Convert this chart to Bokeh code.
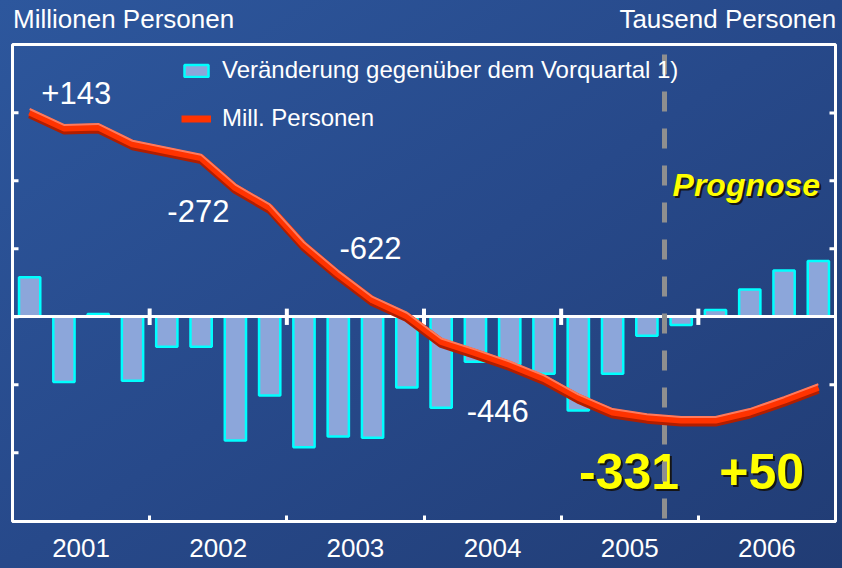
from bokeh.plotting import figure
from bokeh.models import (Range1d, LinearAxis, FixedTicker, Legend, LegendItem)
from bokeh.core.properties import value
from bokeh.embed import file_html
from bokeh.resources import INLINE

# ---------------- data ----------------
years = ["2001", "2002", "2003", "2004", "2005", "2006"]
quarters = [f"{y}Q{q}" for y in years for q in range(1, 5)]
# change vs previous quarter, thousand persons (right scale)
change_k = [29, -48, 2, -47,
            -22, -22, -91, -58,
            -96, -88, -89, -52,
            -67, -33, -35, -42,
            -69, -42, -14, -6,
            5, 20, 34, 41]
# persons, millions (left scale)
persons_m = [28.005, 27.911, 27.917, 27.818,
             27.777, 27.736, 27.560, 27.443,
             27.221, 27.051, 26.899, 26.806,
             26.654, 26.589, 26.519, 26.437,
             26.326, 26.239, 26.209, 26.192,
             26.192, 26.239, 26.309, 26.385]
# annual change labels (thousand persons)
annual_labels = ["+143", "-272", "-622", "-446", "-331", "+50"]
forecast_start = "2005Q4"
left_ticks = [26.0, 26.4, 26.8, 27.2, 27.6, 28.0]
right_ticks = [-50, 50, 100, 150]
unit_labels = ["Millionen Personen", "Tausend Personen"]

# ---------------- layout constants ----------------
FONT = "Liberation Sans"
W, H = 842, 568
ML, MR, MT, MB = 12, 7, 41, 47
FRAME_W = W - ML - MR
FRAME_H = H - MT - MB
idx = list(range(len(quarters)))
X0, X1 = -0.5, len(quarters) - 0.5
X_PER_PX = (X1 - X0) / FRAME_W
boundaries = [4 * k - 0.5 for k in range(1, len(years))]
year_centers = [4 * k + 1.5 for k in range(len(years))]
forecast_x = quarters.index(forecast_start) - 0.5
unit_label_x = [2.74, 20.36]

Y_K = (-150.6, 200.3)
Y_M = (25.595, 28.402)
M_PER_PX = (Y_M[1] - Y_M[0]) / FRAME_H
TICK = 6 * X_PER_PX

p = figure(width=W, height=H, output_backend="svg", toolbar_location=None,
           x_range=Range1d(X0, X1), y_range=Range1d(*Y_K),
           x_axis_location=None, y_axis_location=None,
           min_border_left=ML, min_border_right=MR, min_border_top=MT, min_border_bottom=MB)
p.extra_y_ranges = {
    "mill": Range1d(*Y_M),
    "mill_sh": Range1d(Y_M[0] + 3 * M_PER_PX, Y_M[1] + 3 * M_PER_PX),
    "mill_hi": Range1d(Y_M[0] - 3 * M_PER_PX, Y_M[1] - 3 * M_PER_PX),
}
p.grid.visible = False
p.background_fill_alpha = 0
p.border_fill_alpha = 0
p.outline_line_color = "white"
p.outline_line_width = 3

# bottom axis: year labels, inward ticks at year boundaries
xb = LinearAxis(ticker=FixedTicker(ticks=year_centers, minor_ticks=boundaries),
                major_label_overrides={c: y for c, y in zip(year_centers, years)},
                major_tick_line_color=None, major_tick_in=0, major_tick_out=0,
                minor_tick_in=6, minor_tick_out=0,
                minor_tick_line_color="white", minor_tick_line_width=3,
                axis_line_color="white", axis_line_width=3,
                major_label_text_color="white", major_label_text_font=FONT,
                major_label_text_font_size="26px", major_label_standoff=17)
p.add_layout(xb, "below")

# top axis: unit captions
xt = LinearAxis(ticker=FixedTicker(ticks=unit_label_x, minor_ticks=[]),
                major_label_overrides={c: t for c, t in zip(unit_label_x, unit_labels)},
                major_tick_line_color=None, major_tick_in=0, major_tick_out=0,
                minor_tick_line_color=None, axis_line_color=None,
                major_label_text_color="white", major_label_text_font=FONT,
                major_label_text_font_size="26px", major_label_standoff=11)
p.add_layout(xt, "above")

# inward ticks on left (millions) and right (thousands) frame sides
p.segment(x0=[X0] * len(left_ticks), y0=left_ticks, x1=[X0 + TICK] * len(left_ticks),
          y1=left_ticks, y_range_name="mill", line_color="white", line_width=3)
p.segment(x0=[X1 - TICK] * len(right_ticks), y0=right_ticks, x1=[X1] * len(right_ticks),
          y1=right_ticks, line_color="white", line_width=3)

# bars
bars = p.vbar(x=idx, top=change_k, bottom=0, width=0.62,
              fill_color="#8ca6da", line_color="#00ffff", line_width=2.5)

# zero line with year ticks
p.hspan(y=[0], line_color="white", line_width=3)
p.segment(x0=boundaries, y0=[-6] * len(boundaries), x1=boundaries, y1=[6] * len(boundaries),
          line_color="white", line_width=4)

# annual change labels
small_x = [1.36, 4.92, 9.94, 13.65]
small_y = [164.5, 77.5, 50.4, -69.4]
p.text(x=small_x, y=small_y, text=annual_labels[:4], text_color="white",
       text_font=value(FONT), text_font_size="31px",
       text_align="center", text_baseline="middle")

big_x = [17.48, 21.35]
big_y = [-114, -114]
p.text(x=big_x, y=big_y, text=annual_labels[4:], text_color="#151515",
       text_font=value(FONT), text_font_size="50px", text_font_style="bold",
       text_align="center", text_baseline="middle", x_offset=2, y_offset=2)
p.text(x=big_x, y=big_y, text=annual_labels[4:], text_color="#ffff00",
       text_font=value(FONT), text_font_size="50px", text_font_style="bold",
       text_align="center", text_baseline="middle")

p.text(x=[20.9], y=[97.2], text=["Prognose"], text_color="#151515",
       text_font=value(FONT), text_font_size="32px", text_font_style="bold italic",
       text_align="center", text_baseline="middle", x_offset=2, y_offset=2)
p.text(x=[20.9], y=[97.2], text=["Prognose"], text_color="#ffff00",
       text_font=value(FONT), text_font_size="32px", text_font_style="bold italic",
       text_align="center", text_baseline="middle")

# forecast divider
p.vspan(x=[forecast_x], line_color="#8f8f8f", line_width=5,
        line_dash="20 17", line_dash_offset=27)

# persons line (3D look)
p.line(idx, persons_m, y_range_name="mill_sh", line_color="#b01e00", line_width=7,
       line_join="round")
main_line = p.line(idx, persons_m, y_range_name="mill", line_color="#ff3300", line_width=7,
                   line_join="round")
p.line(idx, persons_m, y_range_name="mill_hi", line_color="#ff7a5c", line_width=2,
       line_join="round")

legend = Legend(items=[
    LegendItem(label=value("Veränderung gegenüber dem Vorquartal 1)"), renderers=[bars]),
    LegendItem(label=value("Mill. Personen"), renderers=[main_line]),
], location=(169, 389), orientation="vertical",
    background_fill_alpha=0, border_line_alpha=0,
    label_text_color="white", label_text_font=FONT, label_text_font_size="24px",
    glyph_width=30, glyph_height=15, label_standoff=11, spacing=20,
    padding=0, margin=0)
p.add_layout(legend)

html = file_html(p, INLINE)
css = ("<style>html{height:100%;background:linear-gradient(to bottom right,"
       "#2d579d 0%,#27498a 50%,#213c74 100%);}body{background:transparent;}</style>")
html = html.replace("</head>", css + "</head>", 1)
open("out.html", "w").write(html)
